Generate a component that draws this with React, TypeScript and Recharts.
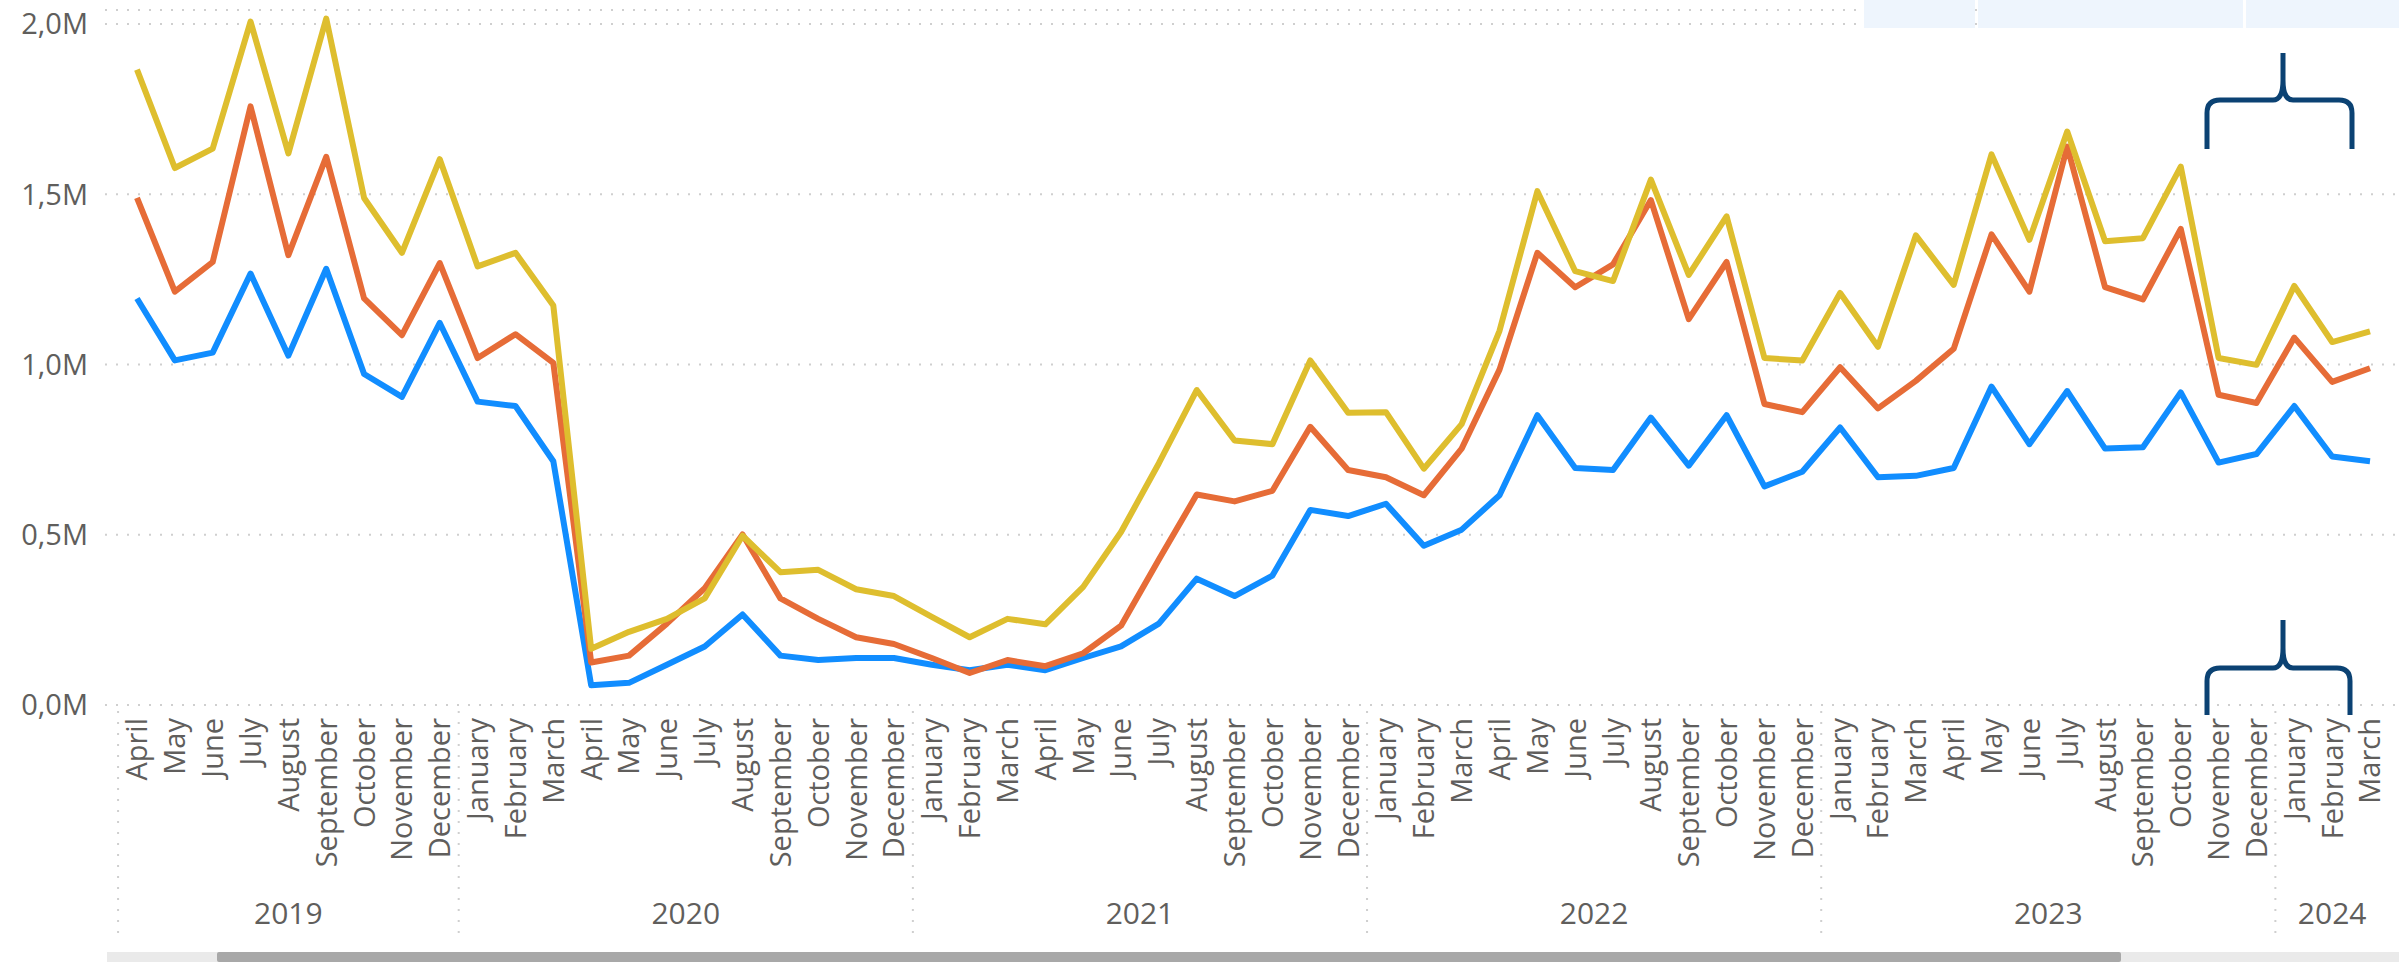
import React from "react";
import { LineChart, Line, XAxis, YAxis, CartesianGrid } from "recharts";

// ---------- data ----------
const months = [
  "April","May","June","July","August","September","October","November","December",
  "January","February","March","April","May","June","July","August","September","October","November","December",
  "January","February","March","April","May","June","July","August","September","October","November","December",
  "January","February","March","April","May","June","July","August","September","October","November","December",
  "January","February","March","April","May","June","July","August","September","October","November","December",
  "January","February","March",
];
const years = [
  ...Array(9).fill("2019"),
  ...Array(12).fill("2020"),
  ...Array(12).fill("2021"),
  ...Array(12).fill("2022"),
  ...Array(12).fill("2023"),
  ...Array(3).fill("2024"),
];

// values in millions
const yellowValues = [
  1.866, 1.577, 1.634, 2.007, 1.620, 2.016, 1.489, 1.328, 1.603,
  1.288, 1.328, 1.173, 0.165, 0.215, 0.253, 0.313, 0.497, 0.390, 0.397, 0.340, 0.320,
  0.259, 0.199, 0.253, 0.237, 0.347, 0.508, 0.710, 0.925, 0.777, 0.766, 1.012, 0.858,
  0.860, 0.694, 0.825, 1.099, 1.509, 1.274, 1.245, 1.543, 1.263, 1.435, 1.019, 1.012,
  1.210, 1.052, 1.379, 1.234, 1.617, 1.366, 1.684, 1.362, 1.371, 1.581, 1.019, 0.999,
  1.231, 1.066, 1.097,
];
const orangeValues = [
  1.489, 1.214, 1.301, 1.758, 1.321, 1.610, 1.194, 1.086, 1.298,
  1.019, 1.089, 1.005, 0.125, 0.145, 0.239, 0.343, 0.501, 0.313, 0.253, 0.199, 0.179,
  0.138, 0.094, 0.132, 0.114, 0.152, 0.233, 0.427, 0.618, 0.598, 0.629, 0.817, 0.690,
  0.669, 0.616, 0.753, 0.985, 1.328, 1.227, 1.294, 1.483, 1.133, 1.301, 0.884, 0.860,
  0.992, 0.871, 0.952, 1.046, 1.382, 1.214, 1.640, 1.227, 1.191, 1.398, 0.911, 0.887,
  1.079, 0.949, 0.989,
];
const blueValues = [
  1.194, 1.012, 1.035, 1.267, 1.026, 1.281, 0.972, 0.905, 1.122,
  0.891, 0.878, 0.716, 0.058, 0.065, 0.118, 0.172, 0.266, 0.145, 0.132, 0.138, 0.138,
  0.118, 0.102, 0.118, 0.102, 0.138, 0.172, 0.239, 0.371, 0.320, 0.380, 0.573, 0.555,
  0.591, 0.468, 0.515, 0.616, 0.851, 0.696, 0.690, 0.844, 0.703, 0.851, 0.642, 0.685,
  0.815, 0.669, 0.673, 0.696, 0.935, 0.766, 0.922, 0.753, 0.757, 0.918, 0.712, 0.737,
  0.878, 0.730, 0.716,
];
const yTicks = [0, 0.5, 1.0, 1.5, 2.0];

const data = months.map((m, i) => ({
  key: `${m} ${years[i]}`,
  yellow: yellowValues[i],
  orange: orangeValues[i],
  blue: blueValues[i],
}));

// ---------- layout ----------
const W = 2399;
const H = 962;
const Y_AXIS_W = 105;
const PAD_L = 32;
const PAD_R = 29;
const STEP = (W - Y_AXIS_W - PAD_L - PAD_R) / (months.length - 1);
const FONT = "'Segoe UI', 'Open Sans', sans-serif";
const TEXT = "#605E5C";
const GRID = "#CFCFCF";

// year group info
const groups: { year: string; start: number; count: number }[] = [];
years.forEach((y, i) => {
  const g = groups[groups.length - 1];
  if (g && g.year === y) g.count++;
  else groups.push({ year: y, start: i, count: 1 });
});

const MonthTick = (props: any) => {
  const { x, y, index } = props;
  const month = months[index];
  const g = groups.find((gr) => index >= gr.start && index < gr.start + gr.count)!;
  const isFirst = index === g.start;
  const half = (g.count - 1) / 2;
  const centerIdx = g.start + Math.floor(half);
  const isCenter = index === centerIdx;
  const off = (half - Math.floor(half)) * STEP;
  return (
    <g>
      <text
        transform={`translate(${x},${y + 13}) rotate(-90)`}
        textAnchor="end"
        dy="0.36em"
        fontSize={29}
        fontFamily={FONT}
        fill={TEXT}
      >
        {month}
      </text>
      {isFirst && (
        <line
          x1={x - STEP / 2}
          x2={x - STEP / 2}
          y1={y + 6}
          y2={y + 237}
          stroke={GRID}
          strokeWidth={2}
          strokeDasharray="2 9"
        />
      )}
      {isCenter && (
        <text
          x={x + off}
          y={y + 208}
          textAnchor="middle"
          dy="0.36em"
          fontSize={30}
          fontFamily={FONT}
          fill={TEXT}
        >
          {g.year}
        </text>
      )}
    </g>
  );
};

const fmtY = (v: number) => v.toFixed(1).replace(".", ",") + "M";

const Brace = ({ x1, x2, xm, top, bar, bottom }: any) => {
  const r = 13;
  const d = [
    `M ${x1} ${bottom}`,
    `L ${x1} ${bar + r}`,
    `Q ${x1} ${bar} ${x1 + r} ${bar}`,
    `L ${xm - 10} ${bar}`,
    `Q ${xm} ${bar} ${xm} ${bar - 20}`,
    `L ${xm} ${top}`,
    `M ${xm} ${bar - 20}`,
    `Q ${xm} ${bar} ${xm + 10} ${bar}`,
    `L ${x2 - r} ${bar}`,
    `Q ${x2} ${bar} ${x2} ${bar + r}`,
    `L ${x2} ${bottom}`,
  ].join(" ");
  return <path d={d} fill="none" stroke="#0B4273" strokeWidth={5} />;
};

export default function App() {
  return (
    <div style={{ position: "absolute", left: 0, top: 0, width: W, height: H, background: "#fff" }}>
      <LineChart
        width={W}
        height={H}
        data={data}
        margin={{ top: 10, right: 0, bottom: 0, left: 0 }}
      >
        <CartesianGrid
          vertical={false}
          stroke={GRID}
          strokeWidth={2}
          strokeDasharray="2 9"
        />
        <XAxis
          dataKey="key"
          type="category"
          scale="point"
          padding={{ left: PAD_L, right: PAD_R }}
          interval={0}
          height={H - 10 - 695}
          axisLine={false}
          tickLine={false}
          tickSize={0}
          tickMargin={0}
          tick={<MonthTick />}
        />
        <YAxis
          width={Y_AXIS_W}
          domain={[0, 2.0411]}
          ticks={yTicks}
          tickFormatter={fmtY}
          axisLine={false}
          tickLine={false}
          tickSize={0}
          tickMargin={17}
          tick={{ fontSize: 29, fontFamily: FONT, fill: TEXT }}
        />
        <Line type="linear" dataKey="blue" stroke="#118DFF" strokeWidth={6} dot={false} isAnimationActive={false} strokeLinejoin="round" />
        <Line type="linear" dataKey="orange" stroke="#E66C37" strokeWidth={6} dot={false} isAnimationActive={false} strokeLinejoin="round" />
        <Line type="linear" dataKey="yellow" stroke="#DEBE2E" strokeWidth={6} dot={false} isAnimationActive={false} strokeLinejoin="round" />
      </LineChart>
      <svg
        width={W}
        height={H}
        style={{ position: "absolute", left: 0, top: 0, pointerEvents: "none" }}
      >
        <rect x={1864} y={0} width={111} height={28} fill="#EEF5FD" />
        <rect x={1978} y={0} width={265} height={28} fill="#EEF5FD" />
        <rect x={2246} y={0} width={153} height={28} fill="#EEF5FD" />
        <Brace x1={2207} x2={2352} xm={2283} top={53} bar={100} bottom={149} />
        <Brace x1={2207} x2={2350} xm={2283} top={620} bar={668} bottom={715} />
        <rect x={107} y={952} width={W - 107} height={10} fill="#EAEAEA" />
        <rect x={217} y={952} width={1904} height={10} rx={2} fill="#A8A8A8" />
      </svg>
    </div>
  );
}
